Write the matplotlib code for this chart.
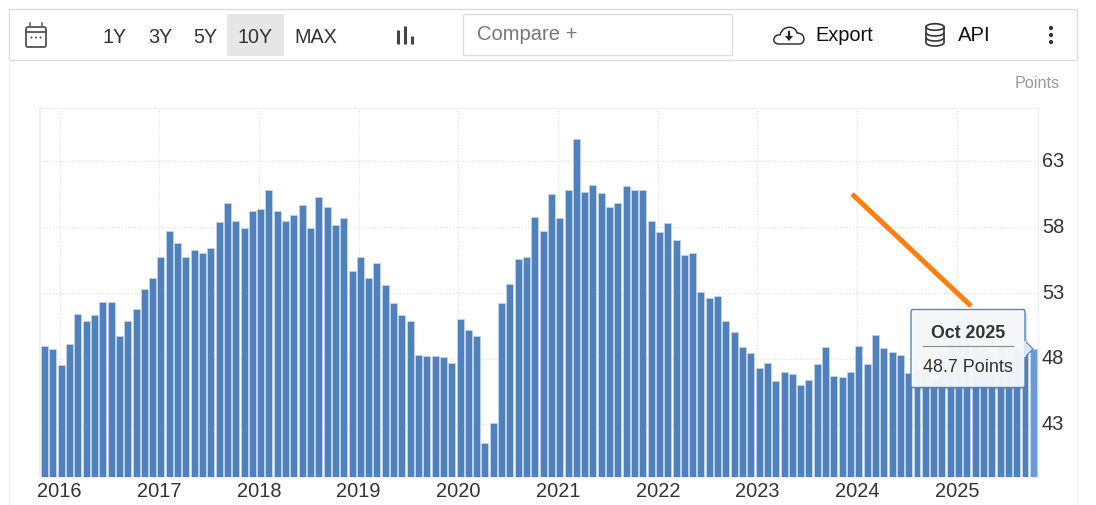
import matplotlib
matplotlib.use('Agg')
import matplotlib.pyplot as plt
from matplotlib.patches import Rectangle, FancyBboxPatch, Polygon, Circle, Ellipse, PathPatch, Arc
from matplotlib.path import Path
from matplotlib.transforms import ScaledTranslation

W, H = 1096, 506

# monthly values, Nov 2015 - Oct 2025
values = [
    49.0, 48.7, 47.5, 49.1, 51.4, 50.9, 51.3, 52.3, 52.3, 49.7,
    50.9, 51.8, 53.3, 54.1, 55.7, 57.7, 56.8, 55.7, 56.3, 56.0,
    56.4, 58.4, 59.8, 58.5, 57.9, 59.2, 59.4, 60.8, 59.2, 58.5,
    58.9, 59.7, 57.9, 60.3, 59.5, 58.2, 58.7, 54.7, 55.7, 54.1,
    55.3, 53.6, 52.2, 51.3, 50.9, 48.3, 48.2, 48.2, 48.1, 47.7,
    51.0, 50.2, 49.7, 41.6, 43.1, 52.2, 53.7, 55.6, 55.7, 58.8,
    57.7, 60.5, 58.7, 60.8, 64.7, 60.7, 61.2, 60.6, 59.5, 59.8,
    61.1, 60.8, 60.8, 58.5, 57.6, 58.3, 57.0, 55.9, 56.0, 53.1,
    52.6, 52.8, 50.9, 50.0, 48.9, 48.4, 47.3, 47.7, 46.3, 47.0,
    46.8, 46.0, 46.4, 47.6, 48.9, 46.7, 46.6, 47.0, 49.0, 47.6,
    49.8, 48.8, 48.5, 48.3, 46.9, 47.2, 47.2, 46.5, 48.4, 49.3,
    50.9, 50.3, 49.0, 48.7, 48.5, 49.0, 48.0, 48.7, 49.1, 48.7,
]
years = ['2016', '2017', '2018', '2019', '2020', '2021', '2022', '2023', '2024', '2025']
y_ticks = [43, 48, 53, 58, 63]
ranges = ['1Y', '3Y', '5Y', '10Y', 'MAX']
range_centers = [115, 160, 205, 255, 316]

plt.rcParams['font.family'] = ['Liberation Sans', 'DejaVu Sans']

fig = plt.figure(figsize=(W / 100, H / 100), dpi=100)

# chart axes placed in pixels
left, right, top, bottom = 40.3, 1038.3, 108.5, 478
ax = fig.add_axes([left / W, 1 - bottom / H, (right - left) / W, (bottom - top) / H])
x = list(range(len(values)))
colors = ['#4f81bd'] * (len(values) - 1) + ['#6a9bd8']
ax.bar(x, [v - 39 for v in values], bottom=39, width=0.84, color=colors,
       edgecolor='#c3d3e8', linewidth=0.6, zorder=3)
ax.set_xlim(-0.52, 119.6)
ax.set_ylim(39, 67.1)
ax.set_xticks([1.8 + 12 * i for i in range(len(years))], years)
ax.set_yticks(y_ticks)
ax.yaxis.tick_right()
ax.tick_params(length=0, labelsize=14.4, labelcolor='#333333')
ax.tick_params(axis='x', pad=3)
ax.tick_params(axis='y', pad=2.5)
# y labels sit a little above their grid lines
for lbl in ax.get_yticklabels():
    lbl.set_transform(lbl.get_transform() + ScaledTranslation(0, 2 / 72, fig.dpi_scale_trans))
ax.grid(True, color='#e2e2e2', lw=0.9, ls=(0, (1, 1.5)), zorder=0)
for s in ['top', 'left', 'right', 'bottom']:
    ax.spines[s].set_color('#eeeeee')
ax.spines['left'].set_linewidth(1.2)
ax.spines['top'].set_linestyle((0, (1, 1.5)))

# overlay in picture pixels for the toolbar, tooltip and drawn line
ui = fig.add_axes([0, 0, 1, 1], zorder=5)
ui.set_xlim(0, W)
ui.set_ylim(H, 0)
ui.axis('off')
ui.patch.set_alpha(0)

ui.plot([9, 9], [60, H], color='#f2f2f2', lw=1)
ui.plot([1076.5, 1076.5], [60, H], color='#f2f2f2', lw=1)
ui.add_patch(Rectangle((9, 9.5), 1067.5, 51, fc='white', ec='#dddddd', lw=1))
ui.add_patch(Rectangle((227, 15), 57, 42, fc='#e6e6e6', ec='none'))
for label, cx in zip(ranges, range_centers):
    ui.text(cx, 37, label, ha='center', va='center', fontsize=14.2, color='#333333')
ui.add_patch(Rectangle((463, 14.5), 268.5, 41, fc='white', ec='#dddddd', lw=1))
ui.text(477, 34, 'Compare +', ha='left', va='center', fontsize=14.5, color='#777777')
ui.text(815.5, 35, 'Export', ha='left', va='center', fontsize=14.4, color='#111111')
ui.text(958, 35, 'API', ha='left', va='center', fontsize=14.6, color='#111111')
ui.text(1060, 83, 'Points', ha='right', va='center', fontsize=11.7, color='#999999')

# calendar icon
ui.add_patch(FancyBboxPatch((26, 28), 20, 20, boxstyle='round,pad=0,rounding_size=2',
                            fc='white', ec='#444444', lw=1.2))
ui.plot([26, 46], [33, 33], color='#444444', lw=1.2)
for px in [30, 42]:
    ui.plot([px, px], [24, 28], color='#666666', lw=1.2)
for px in [31.5, 36, 40.5]:
    ui.add_patch(Circle((px, 38.5), 1, fc='#444444', ec='none'))

# bars icon
for px, y0 in zip([398, 405, 412], [31, 27, 37]):
    ui.plot([px, px], [y0, 45], color='#444444', lw=2.2, solid_capstyle='butt')

# cloud icon
cloud = Path([(779, 45), (771, 45), (773, 35), (780, 36), (783, 25), (796, 27), (797, 34),
              (806, 34), (806, 45), (799, 45), (779, 45)],
             [Path.MOVETO, Path.CURVE4, Path.CURVE4, Path.CURVE4, Path.CURVE4, Path.CURVE4,
              Path.CURVE4, Path.CURVE4, Path.CURVE4, Path.CURVE4, Path.LINETO])
ui.add_patch(PathPatch(cloud, fc='white', ec='#222222', lw=1))
ui.plot([789, 789], [33, 38], color='#222222', lw=1.6)
ui.add_patch(Polygon([(785, 37), (793, 37), (789, 42)], fc='#222222', ec='none'))

# database icon
ui.plot([926, 926], [28, 43], color='#333333', lw=1.2)
ui.plot([944, 944], [28, 43], color='#333333', lw=1.2)
ui.add_patch(Ellipse((935, 28), 18, 6.5, fc='white', ec='#333333', lw=1.2))
for cy in [33.5, 38.5, 43.5]:
    ui.add_patch(Arc((935, cy), 18, 7, theta1=0, theta2=180, ec='#333333', lw=1.2))

# menu dots
for cy in [29, 36, 43]:
    ui.add_patch(Circle((1051, cy), 2.1, fc='#333333', ec='none'))

# orange line
ui.plot([852, 971], [195, 307], color='#ff7f0e', lw=3.6, solid_capstyle='butt')

# tooltip
ui.add_patch(FancyBboxPatch((913, 313), 114, 78, boxstyle='round,pad=0,rounding_size=2',
                            fc='#777777', ec='none', alpha=0.25))
ui.add_patch(FancyBboxPatch((911, 310.5), 114, 78, boxstyle='round,pad=0,rounding_size=2',
                            fc='#f6f8fa', ec='#4f81bd', lw=1, alpha=0.96))
ui.add_patch(Polygon([(1025, 342), (1033, 350), (1025, 358)], fc='#dde7f3', ec='#4f81bd', lw=0.8))
ui.plot([1025, 1025], [343, 357], color='#dde7f3', lw=1.4)
ui.text(968, 334, 'Oct 2025', ha='center', va='center', fontsize=12.8, fontweight='bold', color='#333333')
ui.plot([923, 1013], [346.5, 346.5], color='#888888', lw=0.8)
ui.text(968, 367.5, '48.7 Points', ha='center', va='center', fontsize=13, color='#333333')

fig.savefig('out.png', dpi=100)
